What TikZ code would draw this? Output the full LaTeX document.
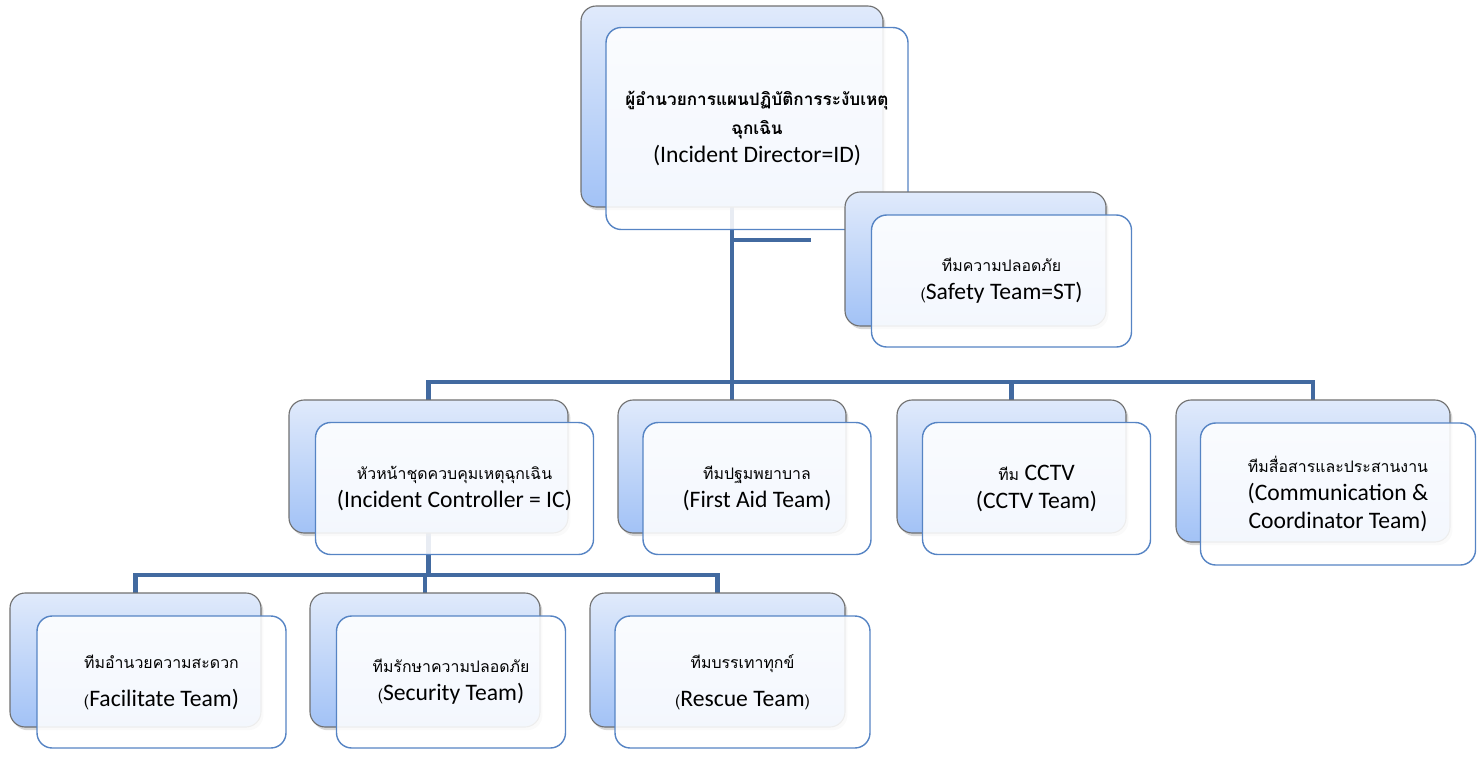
\documentclass[tikz,border=0pt]{standalone}
\usepackage{fontspec}
\setmainfont{Carlito}
\newfontfamily\thaifont[Script=Thai]{Loma}
\usetikzlibrary{shadows}
\newcommand{\pxl}{0.025cm}
\newcommand{\thaireg}{\thaifont\fontsize{11.3}{14}\selectfont}
\newcommand{\thaibold}{\thaifont\bfseries\fontsize{12.2}{15}\selectfont}
\definecolor{linkblue}{RGB}{66,106,160}
\definecolor{frontblue}{RGB}{86,132,196}
\definecolor{boxgray}{RGB}{112,112,112}
\definecolor{gradtop}{RGB}{224,234,251}
\definecolor{gradbot}{RGB}{162,194,246}
\tikzset{
  backbox/.style={draw=boxgray, line width=0.8pt, rounded corners=0.38cm, top color=gradtop, bottom color=gradbot,
    drop shadow={shadow xshift=0.06cm, shadow yshift=-0.08cm, opacity=0.3}, inner sep=0pt},
  frontbox/.style={draw=frontblue, line width=1pt, rounded corners=0.38cm, fill=white, fill opacity=0.88,
    text opacity=1, align=center, inner sep=0pt, font=\fontsize{16.8}{20}\selectfont},
  link/.style={draw=linkblue, line width=3pt}
}
\begin{document}
\begin{tikzpicture}[x=0.025cm, y=-0.025cm]
\useasboundingbox (0,0) rectangle (1477,756);
% coordinates for the bus lines
\coordinate (bus) at (732,382);
\coordinate (bus2) at (428,575);
\coordinate (stlink) at (811,240);
% nodes behind (only for the connectors)
\path (732,106.5) node[minimum width=302*\pxl, minimum height=201*\pxl] (idback) {};
\path (428.5,466.5) node[minimum width=279*\pxl, minimum height=133*\pxl] (icback) {};
\path (732,466.5) node[minimum width=228*\pxl, minimum height=133*\pxl] (faback) {};
\path (1011.5,466.5) node[minimum width=229*\pxl, minimum height=133*\pxl] (cctvback) {};
\path (1313,471) node[minimum width=274*\pxl, minimum height=142*\pxl] (commback) {};
\path (135.5,660) node[minimum width=251*\pxl, minimum height=134*\pxl] (facback) {};
\path (425,660) node[minimum width=230*\pxl, minimum height=134*\pxl] (secback) {};
\path (717.5,660) node[minimum width=255*\pxl, minimum height=134*\pxl] (resback) {};
% connectors
\draw[link] (idback.south) -- (faback.north);
\draw[link] (idback.south |- stlink) -- (stlink);
\draw[link] (icback.north) |- (bus) -| (commback.north);
\draw[link] (cctvback.north) -- (cctvback.north |- bus);
\draw[link] (icback.south) -- (icback.south |- bus2);
\draw[link] (facback.north) |- (bus2) -| (resback.north);
\draw[link] (secback.north) -- (secback.north |- bus2);
% incident director
\node[backbox, minimum width=302*\pxl, minimum height=201*\pxl] at (idback) {};
\node[frontbox, minimum width=302*\pxl, minimum height=202*\pxl] (id) at ([shift={(25,22)}]idback.center)
  {{\thaibold ผู้อำนวยการแผนปฏิบัติการระงับเหตุ}\\{\thaibold ฉุกเฉิน}\\(Incident Director=ID)};
% safety team
\node[backbox, minimum width=261*\pxl, minimum height=134*\pxl] (stback) at (975.5,259) {};
\node[frontbox, minimum width=260*\pxl, minimum height=132*\pxl] (st) at ([shift={(26,22)}]stback.center)
  {{\thaireg ทีมความปลอดภัย}\\{\thaireg(}Safety Team=ST)};
% second level
\node[backbox, minimum width=279*\pxl, minimum height=133*\pxl] at (icback) {};
\node[frontbox, minimum width=278*\pxl, minimum height=132*\pxl] (ic) at ([shift={(26,22)}]icback.center)
  {{\thaireg หัวหน้าชุดควบคุมเหตุฉุกเฉิน}\\(Incident Controller = IC)};
\node[backbox, minimum width=228*\pxl, minimum height=133*\pxl] at (faback) {};
\node[frontbox, minimum width=228*\pxl, minimum height=132*\pxl] (fa) at ([shift={(25,22)}]faback.center)
  {{\thaireg ทีมปฐมพยาบาล}\\(First Aid Team)};
\node[backbox, minimum width=229*\pxl, minimum height=133*\pxl] at (cctvback) {};
\node[frontbox, minimum width=228*\pxl, minimum height=132*\pxl] (cctv) at ([shift={(25,22)}]cctvback.center)
  {{\thaireg ทีม} CCTV\\(CCTV Team)};
\node[backbox, minimum width=274*\pxl, minimum height=142*\pxl] at (commback) {};
\node[frontbox, minimum width=275*\pxl, minimum height=142*\pxl] (comm) at ([shift={(25,23)}]commback.center)
  {{\thaireg ทีมสื่อสารและประสานงาน}\\(Communication \&\\Coordinator Team)};
% third level
\node[backbox, minimum width=251*\pxl, minimum height=134*\pxl] at (facback) {};
\node[frontbox, minimum width=249*\pxl, minimum height=132*\pxl] (fac) at ([shift={(26,22)}]facback.center)
  {{\thaireg ทีมอำนวยความสะดวก}\\[7pt]{\thaireg(}Facilitate Team)};
\node[backbox, minimum width=230*\pxl, minimum height=134*\pxl] at (secback) {};
\node[frontbox, minimum width=229*\pxl, minimum height=132*\pxl] (sec) at ([shift={(26,22)}]secback.center)
  {{\thaireg ทีมรักษาความปลอดภัย}\\{\thaireg(}Security Team)};
\node[backbox, minimum width=255*\pxl, minimum height=134*\pxl] at (resback) {};
\node[frontbox, minimum width=255*\pxl, minimum height=132*\pxl] (res) at ([shift={(25,22)}]resback.center)
  {{\thaireg ทีมบรรเทาทุกข์}\\[7pt]{\thaireg(}Rescue Team{\thaireg)}};
\end{tikzpicture}
\end{document}
